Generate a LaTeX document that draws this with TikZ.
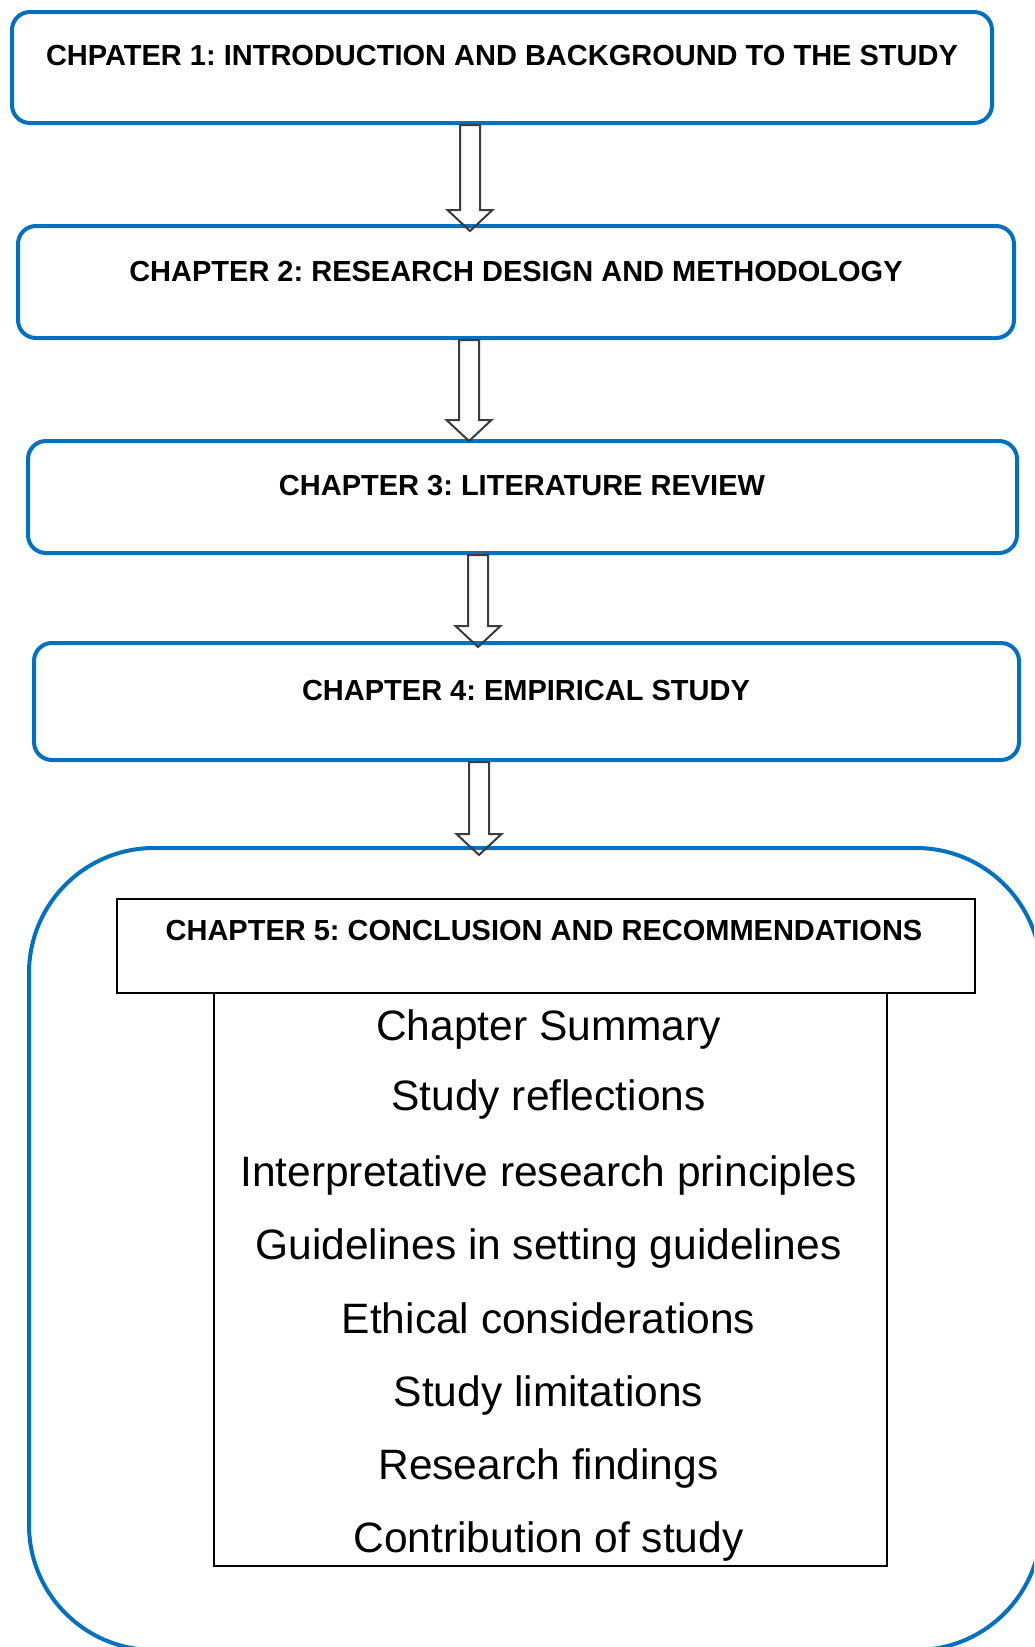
\documentclass[tikz,border=0pt]{standalone}
\usepackage{fontspec}
\setmainfont{Liberation Sans}
\usetikzlibrary{calc}
\frenchspacing
\definecolor{wordblue}{RGB}{0,112,192}
\definecolor{arrowgray}{RGB}{60,60,60}
\tikzset{
  bluebox/.style={draw=wordblue, line width=4pt, rounded corners=18pt, fill=white, rectangle, inner sep=0pt},
  headtext/.style={anchor=base, inner sep=0pt, font=\bfseries\fontsize{29}{34}\selectfont\frenchspacing},
  itemtext/.style={anchor=base, inner sep=0pt, font=\fontsize{42.5}{50}\selectfont},
  blackbox/.style={draw=black, line width=2.5pt, rectangle, inner sep=0pt},
  fatarrow/.style={draw=arrowgray, line width=2pt, line join=miter}
}
\newcommand{\fatarr}[2]{%
  \draw[fatarrow] ($(#1)+(-10,0)$) -- ($(#2)+(-10,-21)$) -- ($(#2)+(-22.5,-21)$) -- (#2)
    -- ($(#2)+(22.5,-21)$) -- ($(#2)+(10,-21)$) -- ($(#1)+(10,0)$) -- cycle;}
\begin{document}
\begin{tikzpicture}[x=1pt, y=-1pt]
\useasboundingbox (0,0) rectangle (1034,1647);
\clip (0,0) rectangle (1034,1647);
\fill[white] (0,0) rectangle (1034,1647);

% chapter boxes
\node[bluebox, minimum width=980pt, minimum height=111pt] (b1) at (502,67.5) {};
\node[headtext] (t1) at (502,65) {CHPATER 1: INTRODUCTION AND BACKGROUND TO THE STUDY};

\node[bluebox, minimum width=996pt, minimum height=112pt] (b2) at (516,282) {};
\node[headtext] (t2) at (516,281) {CHAPTER 2: RESEARCH DESIGN AND METHODOLOGY};

\node[bluebox, minimum width=989pt, minimum height=112pt] (b3) at (522.5,497) {};
\node[headtext] (t3) at (522,495) {CHAPTER 3: LITERATURE REVIEW};

\node[bluebox, minimum width=985pt, minimum height=117pt] (b4) at (526.5,701.5) {};
\node[headtext] (t4) at (526,700) {CHAPTER 4: EMPIRICAL STUDY};

% chapter 5 container
\draw[draw=wordblue, line width=4pt, rounded corners=125pt] (29,848) rectangle (1041,1650);
\coordinate (b5top) at (479,848);

\node[blackbox, minimum width=858pt, minimum height=94pt] (h5) at (546,946) {};
\node[headtext] (t5) at (544,940) {CHAPTER 5: CONCLUSION AND RECOMMENDATIONS};

\draw[blackbox] (h5.south -| 214,0) -- (214,1566) -- (887,1566) -- (h5.south -| 887,0);

\node[itemtext] (i1) at (548.5,1040) {Chapter Summary};
\node[itemtext] (i2) at (548.5,1110) {Study reflections};
\node[itemtext] (i3) at (548.5,1186) {Interpretative research principles};
\node[itemtext] (i4) at (548.5,1259) {Guidelines in setting guidelines};
\node[itemtext] (i5) at (548.5,1333) {Ethical considerations};
\node[itemtext] (i6) at (548.5,1406) {Study limitations};
\node[itemtext] (i7) at (548.5,1479) {Research findings};
\node[itemtext] (i8) at (548.5,1552) {Contribution of study};

% arrows
\coordinate (a1s) at (b1.south -| 470,0);
\coordinate (a1e) at ($(b2.north -| 470,0)+(0,7)$);
\coordinate (a2s) at (b2.south -| 469,0);
\coordinate (a2e) at ($(b3.north -| 469,0)+(0,2)$);
\coordinate (a3s) at (b3.south -| 478,0);
\coordinate (a3e) at ($(b4.north -| 478,0)+(0,6)$);
\coordinate (a4s) at (b4.south -| 479,0);
\coordinate (a4e) at ($(b5top)+(0,7)$);
\fatarr{a1s}{a1e}
\fatarr{a2s}{a2e}
\fatarr{a3s}{a3e}
\fatarr{a4s}{a4e}
\end{tikzpicture}
\end{document}
